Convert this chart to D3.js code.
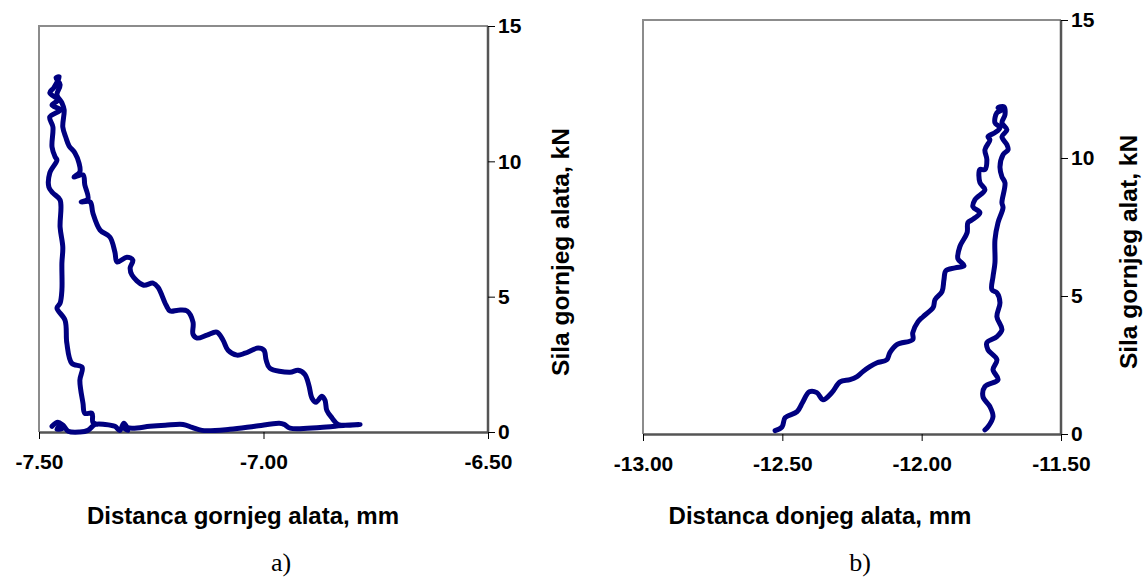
<!DOCTYPE html>
<html><head><meta charset="utf-8">
<script src="https://cdn.jsdelivr.net/npm/d3@7"></script>
<style>body{margin:0;background:#fff} svg{display:block}</style>
</head><body>
<svg id="c" width="1146" height="580"></svg>
<script>
// Panel a) : upper tool distance (mm) vs upper tool force (kN)
const distA = [-7.471,-7.458,-7.444,-7.460,-7.449,-7.435,-7.409,-7.391,-7.375,-7.353,-7.331,-7.320,-7.311,-7.302,-7.315,-7.293,-7.253,-7.219,-7.179,-7.159,-7.137,-7.075,-7.019,-6.965,-6.954,-6.941,-6.874,-6.818,-6.785,-6.807,-6.834,
 -6.847,-6.859,-6.863,-6.870,-6.883,-6.892,-6.899,-6.908,-6.923,-6.941,-6.986,-6.994,-6.999,-7.012,-7.041,-7.059,-7.079,-7.090,-7.104,-7.126,-7.148,-7.157,-7.157,-7.170,-7.190,-7.208,-7.217,-7.235,-7.246,-7.268,-7.293,-7.297,-7.291,-7.304,-7.326,-7.331,-7.342,-7.364,-7.380,-7.386,-7.406,-7.391,-7.398,-7.402,-7.422,-7.409,-7.411,-7.420,-7.433,-7.440,-7.447,-7.444,-7.449,
 -7.460,-7.453,-7.462,-7.455,-7.467,-7.476,-7.458,-7.471,-7.453,-7.476,
 -7.469,-7.471,-7.464,-7.460,-7.476,-7.478,-7.469,-7.453,-7.453,-7.447,-7.449,-7.449,-7.453,-7.460,-7.442,-7.438,-7.427,-7.404,-7.409,-7.402,-7.398,-7.382,-7.380,-7.371];
const forceA = [0.21,0.36,0.17,0.10,0.28,0.03,0.00,0.06,0.28,0.28,0.21,0.06,0.32,0.06,0.21,0.14,0.21,0.25,0.28,0.17,0.06,0.10,0.21,0.32,0.28,0.14,0.17,0.25,0.28,0.25,0.28,
 0.51,0.80,1.17,1.32,1.10,1.25,1.73,2.13,2.28,2.21,2.36,2.65,3.02,3.10,2.91,2.84,3.02,3.39,3.69,3.58,3.47,3.61,4.06,4.47,4.50,4.47,4.69,5.35,5.50,5.43,5.80,6.06,6.35,6.46,6.28,6.65,7.20,7.46,8.09,8.50,8.50,8.61,9.13,9.50,9.42,9.61,9.94,10.31,10.57,10.87,11.27,11.90,12.16,
 12.46,12.83,13.09,13.12,12.72,12.53,12.27,12.08,11.90,11.64,
 11.27,10.53,10.16,10.05,9.57,9.05,8.83,8.57,7.57,6.83,6.24,5.24,4.76,4.58,4.13,3.28,2.54,2.39,1.91,1.06,0.69,0.69,0.36,0.28];

// Panel b) : lower tool distance (mm) vs upper tool force (kN)
const distB = [-12.526,-12.501,-12.490,-12.447,-12.428,-12.403,-12.376,-12.354,-12.322,-12.293,-12.257,-12.232,-12.211,-12.186,-12.160,-12.125,-12.114,-12.089,-12.032,-12.032,-12.013,-11.995,-11.959,-11.952,-11.927,-11.920,-11.913,-11.880,-11.848,-11.870,-11.863,-11.837,-11.834,-11.819,-11.791,-11.816,-11.809,-11.773,-11.791,-11.791,-11.773,-11.766,-11.773,-11.755,-11.762,-11.737,-11.719,-11.737,-11.730,-11.712,-11.726,-11.705,
 -11.701,-11.712,-11.694,-11.712,-11.694,-11.690,-11.708,-11.719,-11.712,-11.701,-11.712,-11.708,-11.726,-11.737,-11.737,-11.744,-11.748,-11.730,-11.719,-11.730,-11.712,-11.730,-11.766,-11.762,-11.730,-11.744,-11.726,-11.773,-11.780,-11.755,-11.744,-11.762,-11.773];
const forceB = [0.12,0.26,0.59,0.81,1.13,1.53,1.50,1.24,1.50,1.89,1.97,2.08,2.26,2.44,2.58,2.69,2.95,3.24,3.42,3.67,4.07,4.25,4.58,4.87,5.16,5.59,5.92,6.02,6.10,6.35,6.79,7.29,7.66,7.76,8.02,8.23,8.49,8.85,9.11,9.58,9.58,9.94,10.30,10.66,10.77,10.92,11.10,11.28,11.64,11.75,11.82,11.86,
 11.57,11.28,11.02,10.77,10.48,10.30,10.12,9.68,9.32,9.10,8.38,8.20,7.66,7.04,6.21,5.70,5.23,5.12,4.76,4.25,3.78,3.53,3.31,3.05,2.69,2.33,1.97,1.72,1.35,0.99,0.63,0.26,0.15];

const xTicksA = [-7.5, -7.0, -6.5];
const xTicksB = [-13.0, -12.5, -12.0, -11.5];
const yTicks = [0, 5, 10, 15];
const xTitles = ["Distanca gornjeg alata, mm", "Distanca donjeg alata, mm"];
const yTitles = ["Sila gornjeg alata, kN", "Sila gornjeg alat, kN"];
const panelLabels = ["a)", "b)"];

const svg = d3.select("#c");
const FONT = "'Liberation Sans', Arial, sans-serif";

function panel(cfg) {
  const x = d3.scaleLinear().domain(cfg.xd).range([cfg.l, cfg.r]);
  const y = d3.scaleLinear().domain([0, 15]).range([cfg.b, cfg.t]);
  const g = svg.append("g");
  g.append("path")
    .attr("d", `M${cfg.l},${cfg.b}V${cfg.t}H${cfg.r}`)
    .attr("fill", "none").attr("stroke", "#8c8c8c").attr("stroke-width", 2);

  const xa = g.append("g").attr("transform", `translate(0,${cfg.b})`)
    .call(d3.axisBottom(x).tickValues(cfg.xt).tickSize(7).tickSizeOuter(0).tickPadding(15)
      .tickFormat(d => d.toFixed(2)));
  const ya = g.append("g").attr("transform", `translate(${cfg.r},0)`)
    .call(d3.axisRight(y).tickValues(yTicks).tickSize(7).tickSizeOuter(0).tickPadding(3)
      .tickFormat(d => String(d)));
  [xa, ya].forEach(a => {
    a.attr("font-family", null).attr("font-size", null);
    a.select(".domain").attr("stroke", "#555").attr("stroke-width", 2.5);
    a.selectAll(".tick line").attr("stroke", "#000").attr("stroke-width", 1);
    a.selectAll(".tick text")
      .style("font-family", FONT).style("font-weight", "700")
      .style("font-size", "21px").style("fill", "#000");
  });
  ya.select(".domain").attr("d", `M0,${cfg.b}V${cfg.t}`);

  g.append("text").attr("x", cfg.tx).attr("y", 524).attr("text-anchor", "middle")
    .style("font-family", FONT).style("font-weight", "700").style("font-size", "24px").text(cfg.xTitle);
  g.append("text").attr("transform", `translate(${cfg.yx},252) rotate(-90)`).attr("text-anchor", "middle")
    .style("font-family", FONT).style("font-weight", "700").style("font-size", "24.5px").text(cfg.yTitle);
  g.append("text").attr("x", cfg.lx).attr("y", 571).attr("text-anchor", "middle")
    .style("font-family", "'Liberation Serif', 'Times New Roman', serif").style("font-size", "26px").text(cfg.label);

  const pts = cfg.xs.map((v, i) => [v, cfg.ys[i]]);
  const line = d3.line().x(d => x(d[0])).y(d => y(d[1])).curve(d3.curveCatmullRom.alpha(0.5));
  g.append("path").attr("d", line(pts)).attr("fill", "none").attr("stroke", "#000080")
    .attr("stroke-width", 5).attr("stroke-linejoin", "round").attr("stroke-linecap", "round");
}

panel({xd: [-7.5, -6.5], l: 39, r: 488, t: 26, b: 432, xt: xTicksA, xs: distA, ys: forceA,
  xTitle: xTitles[0], yTitle: yTitles[0], label: panelLabels[0], tx: 243, yx: 569, lx: 281});
panel({xd: [-13, -11.5], l: 643, r: 1061, t: 20, b: 434, xt: xTicksB, xs: distB, ys: forceB,
  xTitle: xTitles[1], yTitle: yTitles[1], label: panelLabels[1], tx: 820, yx: 1137, lx: 860});
</script>
</body></html>
